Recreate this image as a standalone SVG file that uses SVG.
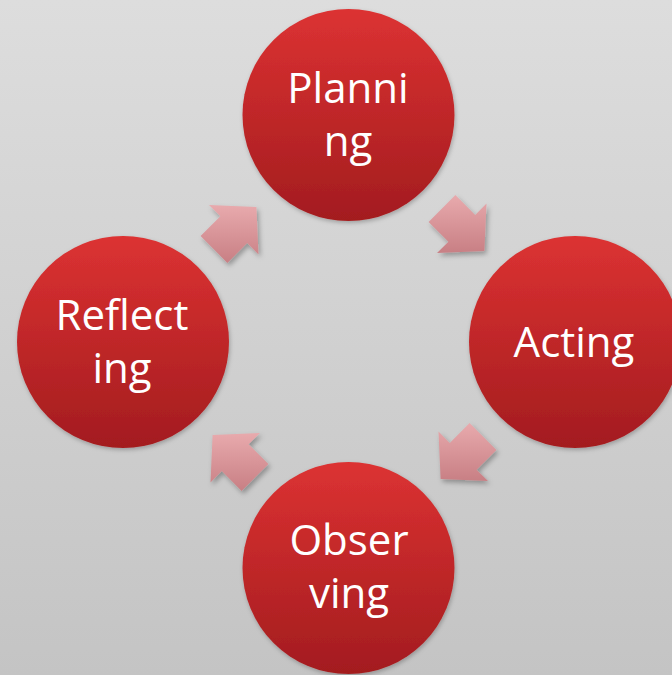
<svg xmlns="http://www.w3.org/2000/svg" width="672" height="675" viewBox="0 0 672 675">
<defs>
<linearGradient id="bg" x1="0" y1="0" x2="0" y2="1">
<stop offset="0" stop-color="#dddddd"/>
<stop offset="1" stop-color="#c4c4c4"/>
</linearGradient>
<linearGradient id="red" x1="0" y1="0" x2="0" y2="1">
<stop offset="0" stop-color="#dc3232"/>
<stop offset="1" stop-color="#a31c1f"/>
</linearGradient>
<linearGradient id="pink" x1="0" y1="0" x2="0" y2="1">
<stop offset="0" stop-color="#e8aaad"/>
<stop offset="1" stop-color="#c87f84"/>
</linearGradient>
<filter id="sh" x="-20%" y="-20%" width="140%" height="140%">
<feDropShadow dx="2" dy="3" stdDeviation="2.5" flood-color="#000" flood-opacity="0.3"/>
</filter>
<filter id="csh" x="-10%" y="-10%" width="120%" height="120%">
<feDropShadow dx="1" dy="2" stdDeviation="2" flood-color="#000" flood-opacity="0.25"/>
</filter>
</defs>
<style>
.node{fill:url(#red);filter:url(#csh)}
.lbl{fill:#ffffff;font-family:"Open Sans","Noto Sans",sans-serif;font-size:42px;text-anchor:middle}
.arr{fill:url(#pink);filter:url(#sh)}
</style>
<rect width="672" height="675" fill="url(#bg)"/>
<g id="connectors">
<polygon class="arr" points="200.6,236.1 220.4,216.3 209.0,205.0 256.4,207.1 258.5,254.5 247.2,243.1 227.4,262.9"/>
<polygon class="arr" points="455.4,195.1 475.2,214.9 486.5,203.5 484.4,250.9 437.0,253.0 448.4,241.7 428.6,221.9"/>
<polygon class="arr" points="496.4,449.9 476.6,469.7 488.0,481.0 440.6,478.9 438.5,431.5 449.8,442.9 469.6,423.1"/>
<polygon class="arr" points="241.6,490.9 221.8,471.1 210.5,482.5 212.6,435.1 260.0,433.0 248.6,444.3 268.4,464.1"/>
</g>
<g id="planning">
<circle class="node" cx="348.5" cy="115" r="106"/>
<text class="lbl" x="348" y="103">Planni</text>
<text class="lbl" x="348" y="156">ng</text>
</g>
<g id="acting">
<circle class="node" cx="575" cy="342" r="106"/>
<text class="lbl" x="574" y="357">Acting</text>
</g>
<g id="observing">
<circle class="node" cx="348.5" cy="568" r="106"/>
<text class="lbl" x="349" y="555">Obser</text>
<text class="lbl" x="349" y="608">ving</text>
</g>
<g id="reflecting">
<circle class="node" cx="123" cy="342" r="106"/>
<text class="lbl" x="122" y="330">Reflect</text>
<text class="lbl" x="122" y="383">ing</text>
</g>
</svg>
